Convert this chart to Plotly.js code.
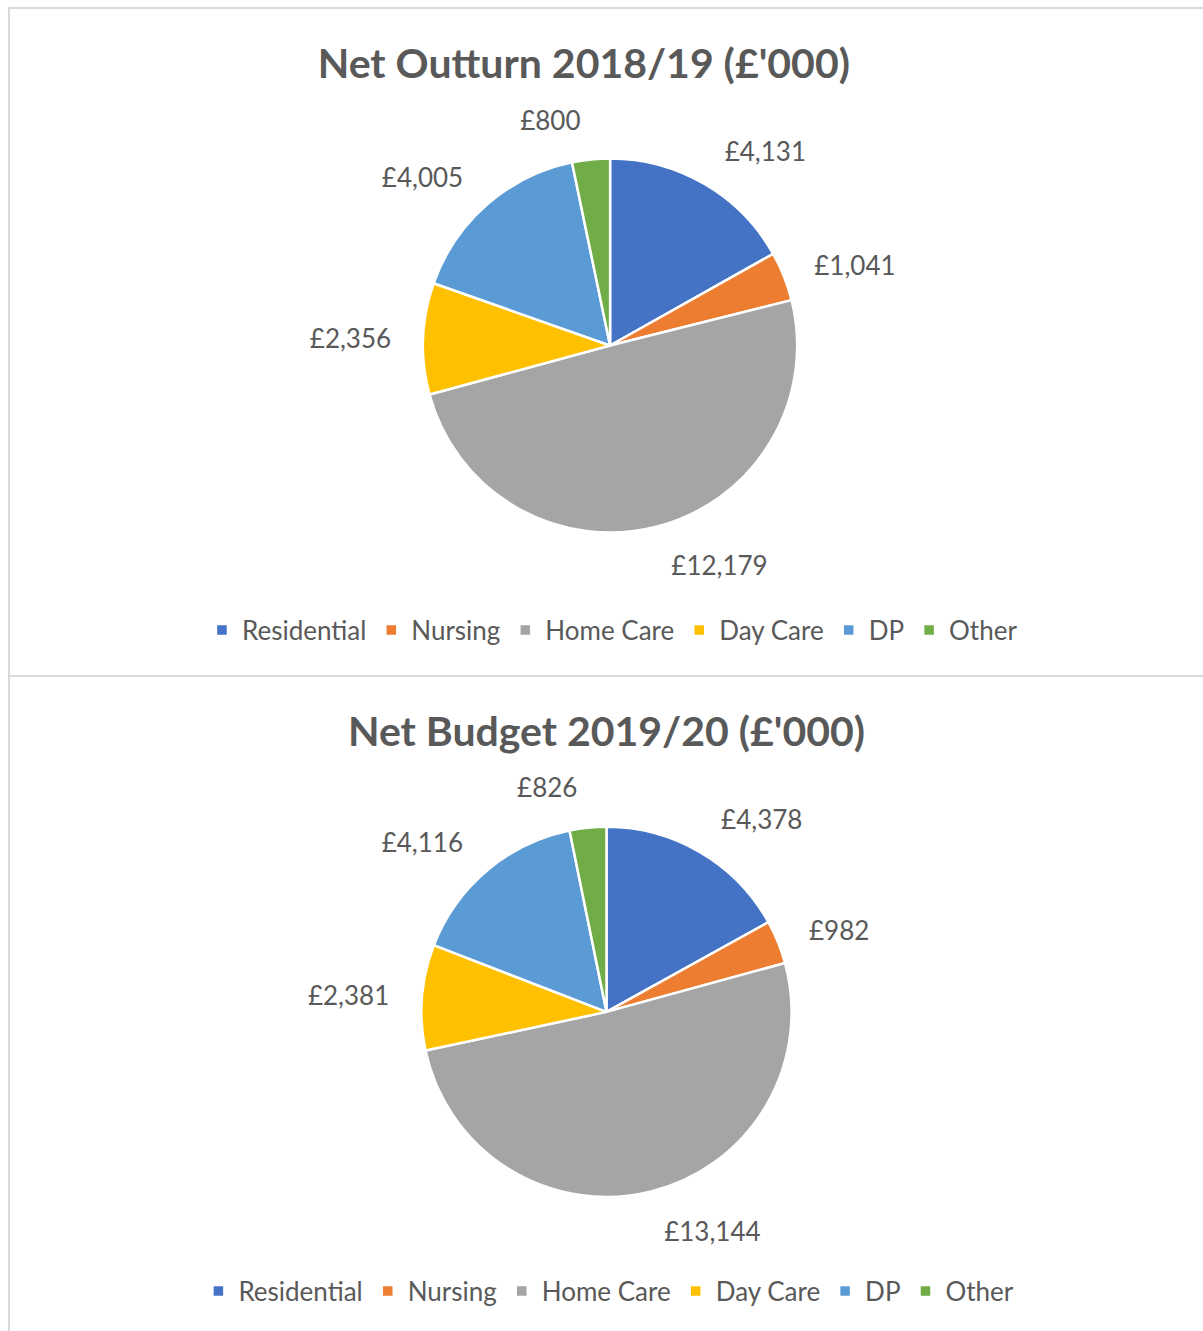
<!DOCTYPE html>
<html>
<head>
<meta charset="utf-8">
<script src="https://cdn.plot.ly/plotly-3.0.1.min.js"></script>
<style>
  html, body { margin: 0; padding: 0; background: #ffffff; width: 1203px; height: 1331px; overflow: hidden; }
  .box { position: absolute; left: 8px; width: 1195px; border-top: 2px solid #d9d9d9; border-left: 2px solid #d9d9d9; box-sizing: border-box; }
  #c1 { top: 7px; height: 669px; }
  #c2 { top: 675px; height: 656px; }
</style>
</head>
<body>
<div id="c1" class="box"></div>
<div id="c2" class="box"></div>
<script>
const categories = ['Residential', 'Nursing', 'Home Care', 'Day Care', 'DP', 'Other'];
const outturn2018 = [4131, 1041, 12179, 2356, 4005, 800];
const budget2019 = [4378, 982, 13144, 2381, 4116, 826];
const colors = ['#4472C4', '#ED7D31', '#A5A5A5', '#FFC000', '#5B9BD5', '#70AD47'];
const titles = ["Net Outturn 2018/19 (£'000)", "Net Budget 2019/20 (£'000)"];

const FONT = 'Lato, "Open Sans", sans-serif';

function makeChart(id, values, title, cfg) {
  const pie = {
    type: 'pie', labels: categories, values: values, sort: false,
    direction: 'clockwise', rotation: 0,
    marker: { colors: colors, line: { color: '#ffffff', width: 2.5 } },
    textinfo: 'none', hoverinfo: 'label+value',
    domain: { x: [cfg.cx - 0.4, cfg.cx + 0.4], y: cfg.dom }
  };
  const ghost = {
    type: 'pie', labels: categories, values: values, sort: false,
    direction: 'clockwise', rotation: 0, showlegend: false,
    marker: { colors: categories.map(() => 'rgba(0,0,0,0)'), line: { width: 0 } },
    textposition: 'outside', texttemplate: '£%{value:,}',
    outsidetextfont: { family: FONT, size: 26, color: '#595959' },
    hoverinfo: 'skip',
    domain: { x: [cfg.cx - 0.45, cfg.cx + 0.45], y: cfg.gdom }
  };
  const layout = {
    width: 1193, height: cfg.h,
    margin: { l: 0, r: 0, t: 0, b: 0 },
    paper_bgcolor: '#ffffff',
    title: { text: '<b>' + title + '</b>', font: { family: FONT, size: 41, color: '#595959' },
             x: cfg.tx, xanchor: 'center', y: cfg.ty, yref: 'container', yanchor: 'middle' },
    showlegend: true,
    legend: { orientation: 'h', x: cfg.lx, xanchor: 'center', y: cfg.ly, yanchor: 'middle',
              font: { family: FONT, size: 26, color: '#595959' }, traceorder: 'normal' }
  };
  Plotly.newPlot(id, [ghost, pie], layout, { displayModeBar: false, staticPlot: true });
}

makeChart('c1', outturn2018, titles[0], { h: 667, cx: 0.503, tx: 0.481, dom: [0.215, 0.776], gdom: [0.179, 0.812], ty: 0.918, lx: 0.505, ly: 0.069 });
makeChart('c2', budget2019, titles[1], { h: 654, cx: 0.500, tx: 0.500, dom: [0.205, 0.771], gdom: [0.167, 0.809], ty: 0.917, lx: 0.502, ly: 0.061 });
</script>
</body>
</html>
